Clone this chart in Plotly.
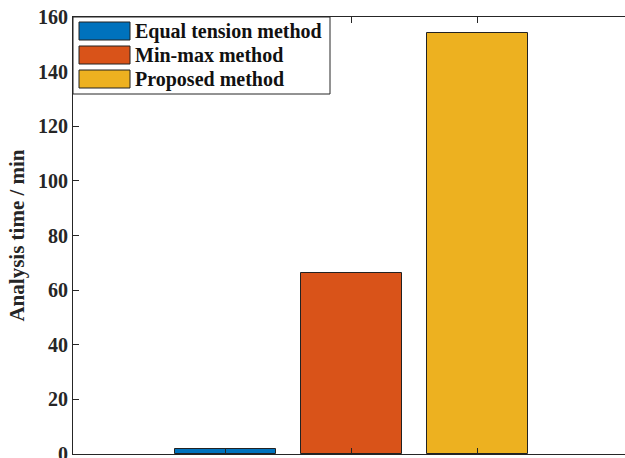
import plotly.graph_objects as go

# Analysis time of the three tension-distribution methods
methods = ["Equal tension method", "Min-max method", "Proposed method"]
positions = [1, 2, 3]
times_min = [1.9, 66.4, 154.0]
colors = ["#0072BD", "#D95319", "#EDB120"]
y_ticks = [0, 20, 40, 60, 80, 100, 120, 140, 160]

FONT = "Liberation Serif"
AXIS_COLOR = "#262626"

fig = go.Figure()
for name, x, t, c in zip(methods, positions, times_min, colors):
    fig.add_trace(go.Bar(
        x=[x], y=[t], name=name, width=0.8,
        marker=dict(color=c, line=dict(color="#222222", width=1)),
        showlegend=False,
    ))

fig.update_layout(
    width=625, height=458,
    margin=dict(l=73, r=0, t=17, b=4, autoexpand=False),
    paper_bgcolor="white", plot_bgcolor="white",
    font=dict(family=FONT, size=20, color="#262626"),
    bargap=0,
    xaxis=dict(
        range=[-0.212, 4.169], tickvals=positions, showticklabels=False,
        ticks="inside", ticklen=6, tickcolor=AXIS_COLOR,
        showline=True, linecolor=AXIS_COLOR, linewidth=1,
        showgrid=False, zeroline=False, automargin=False,
    ),
    xaxis2=dict(
        range=[-0.212, 4.169], tickvals=positions, showticklabels=False,
        ticks="inside", ticklen=6, tickcolor=AXIS_COLOR,
        showline=True, linecolor=AXIS_COLOR, linewidth=1,
        showgrid=False, zeroline=False, overlaying="x", side="top",
        matches="x", automargin=False,
    ),
    yaxis=dict(
        range=[0, 160], tickvals=y_ticks,
        ticktext=[f"<b>{v}</b>" for v in y_ticks],
        ticks="inside", ticklen=6, tickcolor=AXIS_COLOR,
        showline=True, linecolor=AXIS_COLOR, linewidth=1,
        showgrid=False, zeroline=False, ticklabeloverflow="allow",
        automargin=False,
        tickfont=dict(family=FONT, size=20, color="#262626"),
        title=dict(text="<b>Analysis time / min</b>", standoff=7,
                   font=dict(family=FONT, size=21, color="#262626")),
    ),
)

# invisible trace to bring up the top axis
fig.add_trace(go.Scatter(x=[positions[0]], y=[0], xaxis="x2", mode="markers",
                         marker=dict(opacity=0), showlegend=False,
                         hoverinfo="skip"))

# legend box in the upper-left corner of the axes
W, H = 625 - 73, 458 - 17 - 4
def px_x(p):
    return (p - 73) / W
def px_y(p):
    return 1 - (p - 17) / H

fig.add_shape(type="rect", xref="paper", yref="paper",
              x0=px_x(73), x1=px_x(330), y0=px_y(94), y1=px_y(17),
              line=dict(color=AXIS_COLOR, width=1), fillcolor="white")
for i, (name, c) in enumerate(zip(methods, colors)):
    top = 22 + 24 * i
    fig.add_shape(type="rect", xref="paper", yref="paper",
                  x0=px_x(79), x1=px_x(130), y0=px_y(top + 18), y1=px_y(top),
                  line=dict(color="#222222", width=1), fillcolor=c)
    fig.add_annotation(xref="paper", yref="paper", x=px_x(133),
                       y=px_y(top + 9), text=f"<b>{name}</b>",
                       showarrow=False, xanchor="left", yanchor="middle",
                       font=dict(family=FONT, size=20, color="#111111"))

fig.write_html("out.html")
